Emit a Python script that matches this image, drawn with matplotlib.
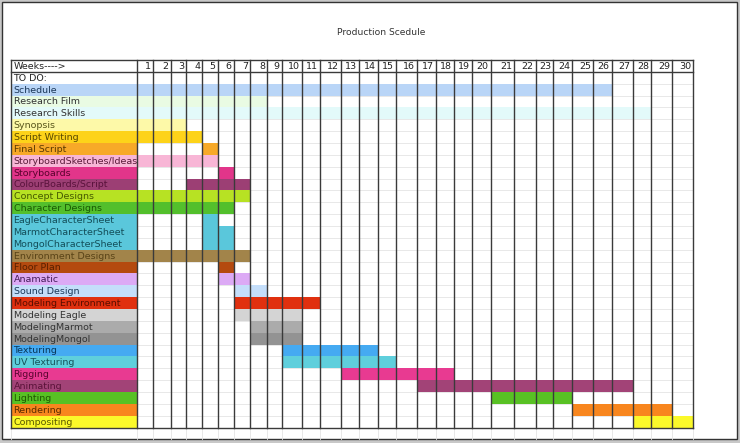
"""Production schedule drawn as a spreadsheet style Gantt chart"""

import numpy as np
from matplotlib import pyplot as plt
from matplotlib.colors import to_rgb, rgb_to_hsv, hsv_to_rgb

title = "Production Scedule"
weeks = list(range(1, 31))

tasks = ["Schedule", "Research Film", "Research Skills", "Synopsis", "Script Writing",
         "Final Script", "StoryboardSketches/Ideas", "Storyboards", "ColourBoards/Script",
         "Concept Designs", "Character Designs", "EagleCharacterSheet", "MarmotCharacterSheet",
         "MongolCharacterSheet", "Environment Designs", "Floor Plan", "Anamatic", "Sound Design",
         "Modeling Environment", "Modeling Eagle", "ModelingMarmot", "ModelingMongol",
         "Texturing", "UV Texturing", "Rigging", "Animating", "Lighting", "Rendering",
         "Compositing"]
start_week = [1, 1, 1, 1, 1, 5, 1, 6, 4, 1, 1, 5, 5, 5, 1, 6, 6, 7, 7, 7, 8, 8,
              10, 10, 13, 17, 21, 25, 28]
end_week = [26, 8, 28, 3, 4, 5, 5, 6, 7, 7, 6, 5, 6, 6, 7, 6, 7, 8, 11, 10, 10, 10,
            14, 15, 18, 27, 24, 29, 30]
task_colors = ["#b9d5f7", "#e9fbe3", "#e3fafa", "#fdf9a8", "#fdd319", "#f7a928", "#f8b6d6",
               "#e2358a", "#9c3f74", "#b7e223", "#53bf2c", "#5ac7db", "#5ac7db", "#5ac7db",
               "#a2844a", "#b44a0f", "#dcaaf5", "#c4defa", "#e0300f", "#d4d4d4", "#ababab",
               "#939393", "#45aaf2", "#5fcfdc", "#e83a91", "#a24377", "#58c124", "#f8861e",
               "#fbf92a"]

# layout of the sheet, in pixels
col_edges = [137.3, 153.3, 170.7, 186, 202.3, 217.7, 233.7, 250, 267, 281.7, 301.7, 320.3,
             340.7, 358.7, 377.7, 395.7, 416.7, 436, 454, 472.3, 490.7, 514, 535.7, 553.3,
             572, 593.3, 611.7, 632.7, 651.3, 672.3, 693.3]
left = 11
top = 60
bottom = 427.5
row_h = (bottom - top) / (len(tasks) + 2)


def text_color(c):
    """Darker tone of a fill colour, used for the label text"""
    h, s, v = rgb_to_hsv(to_rgb(c))
    if s < 0.1:
        return (0.2, 0.2, 0.2)
    return hsv_to_rgb((h, min(1, max(s, 0.5) + 0.2), 0.35))


fig = plt.figure(figsize=(7.4, 4.43), dpi=100, facecolor="#c8c8c8")
ax = fig.add_axes([0, 0, 1, 1])
ax.set_xlim(0, 740)
ax.set_ylim(443, 0)
ax.axis("off")

# page frame
ax.add_patch(plt.Rectangle((2, 2), 735, 437, facecolor="white", edgecolor="#333333", lw=1))
ax.text(381.5, 32.5, title, ha="center", va="center", fontsize=6.6, color="#333333")

right = col_edges[-1]

# faint row lines
for i in range(len(tasks) + 3):
    y = top + i * row_h
    if y > 438:
        break
    ax.plot([left, right], [y, y], color="#e4e4e4", lw=0.6, zorder=1)

# coloured label cells and bars
for i, task in enumerate(tasks):
    y = top + (i + 2) * row_h
    c = task_colors[i]
    ax.barh(y + row_h / 2, col_edges[0] - left, left=left, height=row_h, color=c, zorder=2)
    x0 = col_edges[start_week[i] - 1]
    x1 = col_edges[end_week[i]]
    ax.barh(y + row_h / 2, x1 - x0, left=x0, height=row_h, color=c, zorder=2)
    ax.text(left + 2.5, y + row_h / 2 + 0.5, task, ha="left", va="center", fontsize=6.8,
            color=text_color(c), zorder=4)

ax.text(left + 2.5, top + 1.5 * row_h + 0.5, "TO DO:", ha="left", va="center",
        fontsize=6.8, color="#222222", zorder=4)
ax.text(left + 2.5, top + 0.5 * row_h + 0.5, "Weeks---->", ha="left", va="center",
        fontsize=6.8, color="#222222", zorder=4)

# week numbers
for j, w in enumerate(weeks):
    ax.text(col_edges[j + 1] - 2, top + 0.5 * row_h + 0.5, str(w), ha="right", va="center",
            fontsize=6.8, color="#222222", zorder=4)

# vertical lines
for x in col_edges:
    ax.plot([x, x], [top, bottom], color="#3a3a3a", lw=1.0, zorder=3)
    ax.plot([x, x], [bottom, 438.5], color="#e4e4e4", lw=0.6, zorder=1)
ax.plot([left, left], [top, bottom], color="#3a3a3a", lw=1.0, zorder=3)
ax.plot([left, left], [bottom, 438.5], color="#e4e4e4", lw=0.6, zorder=1)

# header and bottom borders
for y in [top, top + row_h, bottom]:
    ax.plot([left, right], [y, y], color="#3a3a3a", lw=1.0, zorder=3)

plt.savefig("out.png", dpi=100, facecolor=fig.get_facecolor())
